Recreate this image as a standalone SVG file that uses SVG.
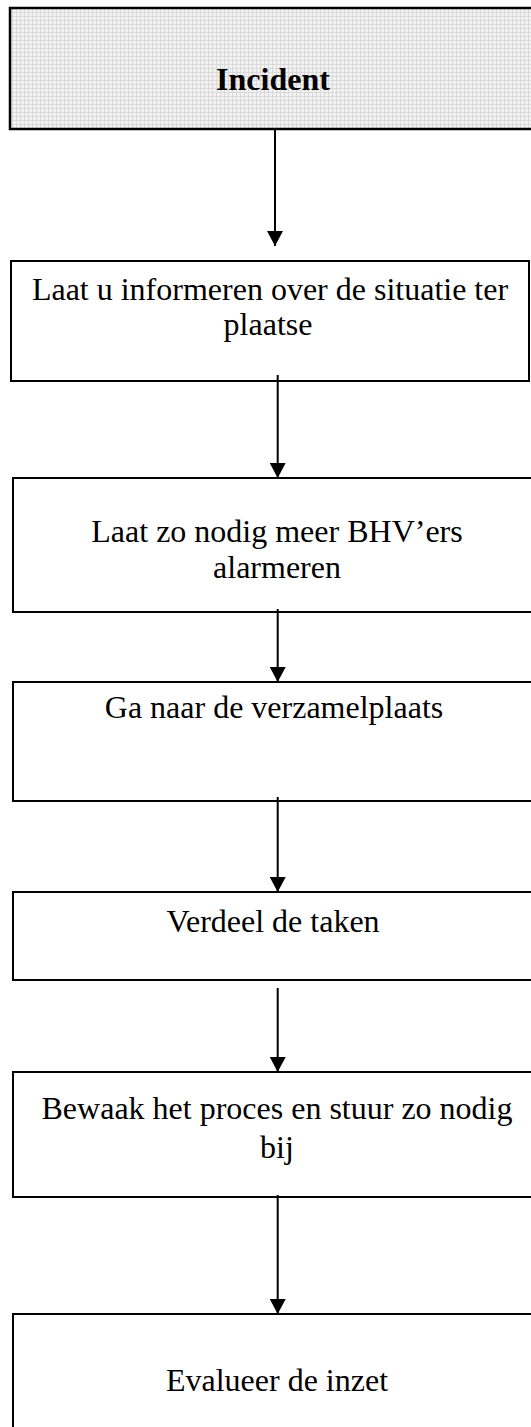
<svg xmlns="http://www.w3.org/2000/svg" width="531" height="1427" viewBox="0 0 531 1427">
  <style>
    .box { fill: #ffffff; stroke: #000000; stroke-width: 2; }
    .start { fill: url(#grid); stroke: #000000; stroke-width: 2.5; }
    .lbl { font-family: "Liberation Serif", "Times New Roman", serif; font-size: 32px; fill: #000000; text-anchor: middle; }
    .bold { font-weight: bold; }
    .edge { stroke: #000000; stroke-width: 2; fill: none; marker-end: url(#arrow); }
  </style>
  <defs>
    <pattern id="grid" width="4" height="4" patternUnits="userSpaceOnUse">
      <rect width="4" height="4" fill="#f2f2f2"/>
      <path d="M0,0.5 H4 M0.5,0 V4" stroke="#dadada" stroke-width="1"/>
    </pattern>
    <marker id="arrow" markerUnits="userSpaceOnUse" markerWidth="16" markerHeight="16" refX="15" refY="8" orient="auto">
      <path d="M0,0 L15,8 L0,16 Z" fill="#000000"/>
    </marker>
  </defs>

  <rect width="531" height="1427" fill="#ffffff"/>

  <!-- flow steps -->
  <g id="incident">
    <rect class="start" x="10" y="8" width="540" height="121"/>
    <text class="lbl bold" x="273" y="90">Incident</text>
  </g>
  <g id="informeren">
    <rect class="box" x="11" y="261" width="518" height="120"/>
    <text class="lbl" x="270" y="300">Laat u informeren over de situatie ter</text>
    <text class="lbl" x="268" y="335">plaatse</text>
  </g>
  <g id="alarmeren">
    <rect class="box" x="13" y="478" width="540" height="134"/>
    <text class="lbl" x="277" y="542">Laat zo nodig meer BHV’ers</text>
    <text class="lbl" x="277" y="578">alarmeren</text>
  </g>
  <g id="verzamelplaats">
    <rect class="box" x="13" y="682" width="540" height="119"/>
    <text class="lbl" x="274" y="718">Ga naar de verzamelplaats</text>
  </g>
  <g id="taken">
    <rect class="box" x="13" y="892" width="540" height="88"/>
    <text class="lbl" x="273" y="932">Verdeel de taken</text>
  </g>
  <g id="bewaken">
    <rect class="box" x="13" y="1072" width="540" height="125"/>
    <text class="lbl" x="277" y="1119">Bewaak het proces en stuur zo nodig</text>
    <text class="lbl" x="277" y="1158">bij</text>
  </g>
  <g id="evalueren">
    <rect class="box" x="13" y="1314" width="540" height="130"/>
    <text class="lbl" x="277" y="1391">Evalueer de inzet</text>
  </g>

  <!-- connectors -->
  <g id="connectors">
    <line class="edge" x1="275" y1="129" x2="275" y2="246"/>
    <line class="edge" x1="277.7" y1="375" x2="277.7" y2="478"/>
    <line class="edge" x1="277.7" y1="609" x2="277.7" y2="682"/>
    <line class="edge" x1="277.7" y1="797" x2="277.7" y2="892"/>
    <line class="edge" x1="277.7" y1="988" x2="277.7" y2="1072"/>
    <line class="edge" x1="277.7" y1="1195" x2="277.7" y2="1314"/>
  </g>
</svg>
